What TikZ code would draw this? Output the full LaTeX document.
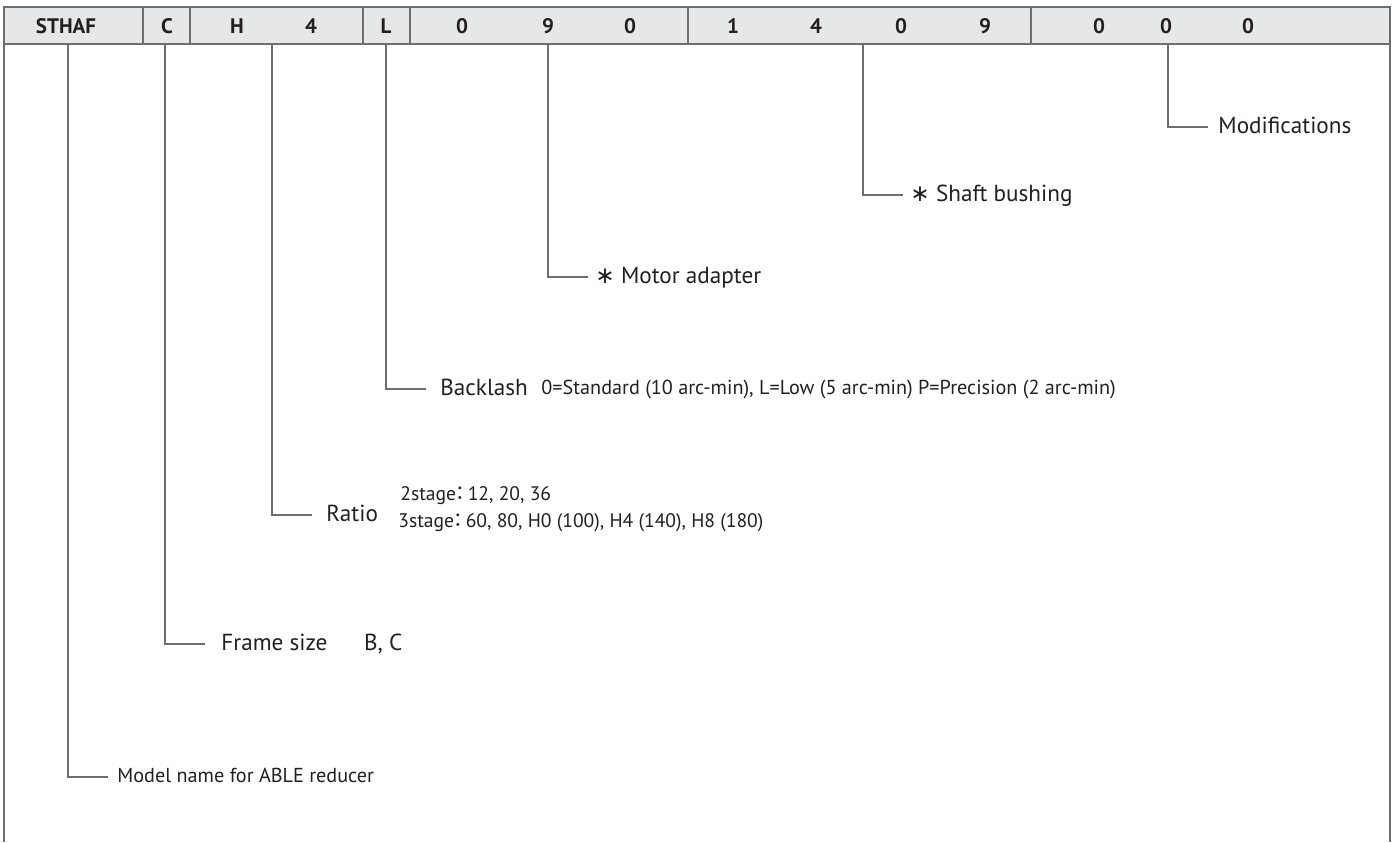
\documentclass[tikz,border=0pt]{standalone}
\usepackage{fontspec}
\setmainfont{PT Sans}
\newfontfamily\cjk{Noto Sans CJK JP}
\newfontfamily\symfont{DejaVu Sans}
\usetikzlibrary{positioning}
\definecolor{hdrfill}{HTML}{E6E7E8}
\definecolor{rulegray}{HTML}{6D6E71}
\definecolor{txtgray}{HTML}{231F20}
\newcommand{\HdrTop}{7}
\newcommand{\HdrBot}{44}
\newcommand{\Colon}{{\cjk\hspace{-3pt}：\hspace{-1pt}}}
\newcommand{\Star}{{\hspace{-1.5pt}\symfont ∗}}
\newcommand{\CodeLeg}[5]{
	\coordinate (#1t) at (#2,\HdrBot);
	\node[#5, anchor=west] (#1) at (#2+40,#3) {#4};
	\draw[rule] (#1t) |- (#1.west);
}
\tikzset{
	rule/.style={draw=rulegray, line width=0.6pt},
	hdr/.style={font=\fontsize{10.5}{12}\selectfont\bfseries, text=txtgray, inner sep=0pt},
	legbig/.style={font=\fontsize{11.6}{13}\selectfont, text=txtgray, inner xsep=5pt, inner ysep=0pt, text height=8.2pt, text depth=2.2pt},
	legsmall/.style={font=\fontsize{10.1}{12}\selectfont, text=txtgray, inner xsep=4.5pt, inner ysep=0pt, text height=7.2pt, text depth=1.9pt}
}
\begin{document}
\begin{tikzpicture}[x=0.5pt, y=-0.5pt]
	\useasboundingbox (0,0) rectangle (1394,842);
	% code header
	\draw[rule, fill=hdrfill] (4,\HdrTop) rectangle (1390,\HdrBot);
	\foreach \xx in {143,190,363,410,688,1031}
		\draw[rule] (\xx,\HdrTop) -- (\xx,\HdrBot);
	\foreach \ch/\xx [count=\i] in {STHAF/66, C/167, H/237, 4/311, L/386, 0/462, 9/548, 0/630, 1/733, 4/816, 0/901, 9/985, 0/1099, 0/1166, 0/1248}
		\node[hdr] (h\i) at (\xx,26) {\ch};
	\draw[rule] (4,\HdrBot) -- (4,842);
	\draw[rule] (1390,\HdrBot) -- (1390,842);
	% legends
	\CodeLeg{model}{68}{777}{Model name for ABLE reducer}{legsmall}
	\CodeLeg{frame}{165}{644}{\hspace{3pt}Frame size}{legbig}
	\node[legbig, right=8pt of frame] (frameval) {B, C};
	\CodeLeg{ratio}{272}{515}{\hspace{2pt}Ratio}{legbig}
	\node[legsmall, font=\fontsize{9.8}{11}\selectfont, anchor=west] (stage2) at (391,495) {2stage\Colon 12, 20, 36};
	\node[legsmall, font=\fontsize{9.8}{11}\selectfont, anchor=west] (stage3) at (389,522) {3stage\Colon 60, 80, H0 (100), H4 (140), H8 (180)};
	\CodeLeg{back}{386}{389}{\hspace{2pt}Backlash}{legbig}
	\node[legsmall, anchor=west] (backval) at (532,389) {0=Standard (10 arc-min), L=Low (5 arc-min) P=Precision (2 arc-min)};
	\CodeLeg{motor}{548}{277}{\Star\ Motor adapter}{legbig}
	\CodeLeg{shaft}{863}{195}{\Star\ Shaft bushing}{legbig}
	\CodeLeg{modif}{1168}{127}{Modifications}{legbig}
\end{tikzpicture}
\end{document}
